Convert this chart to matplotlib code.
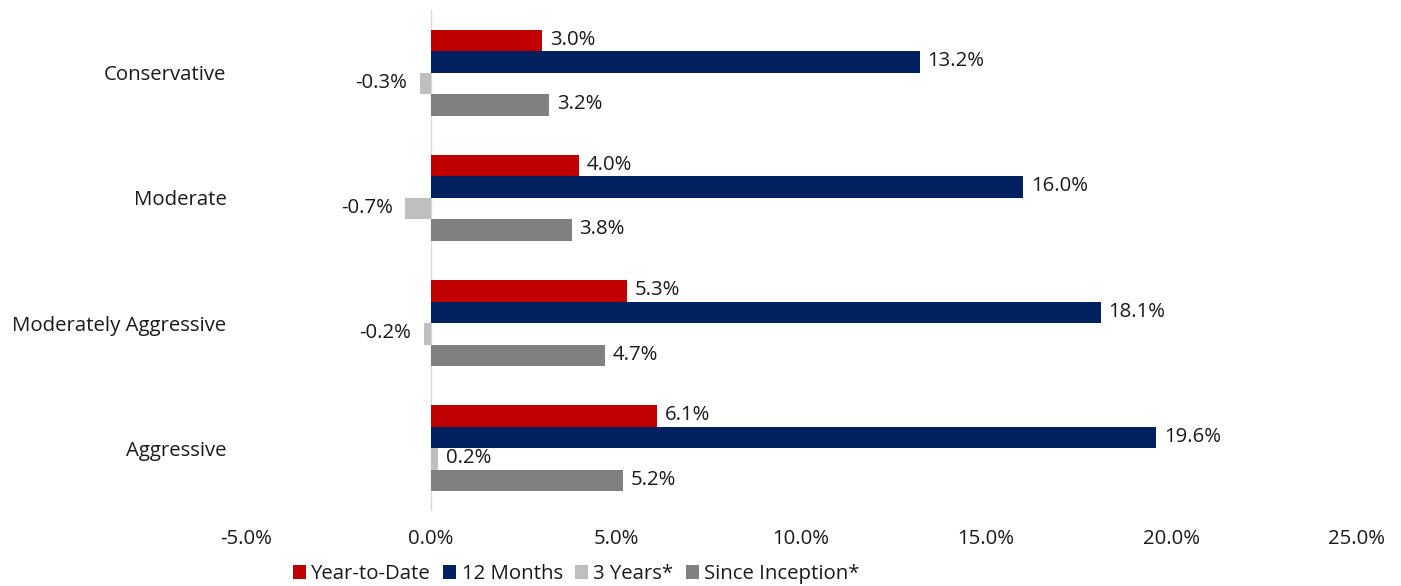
import numpy as np
import matplotlib.pyplot as plt
import matplotlib

matplotlib.rcParams['font.family'] = ['Open Sans', 'DejaVu Sans']

categories = ['Conservative', 'Moderate', 'Moderately Aggressive', 'Aggressive']
series = ['Year-to-Date', '12 Months', '3 Years*', 'Since Inception*']
ytd = [3.0, 4.0, 5.3, 6.1]
m12 = [13.2, 16.0, 18.1, 19.6]
y3 = [-0.3, -0.7, -0.2, 0.2]
since = [3.2, 3.8, 4.7, 5.2]
colors = ['#C00000', '#002060', '#BFBFBF', '#808080']

fig = plt.figure(figsize=(14.01, 5.86), dpi=100)
ax = fig.add_axes([0.1756, 0.128, 0.7924, 0.855])

y = np.arange(len(categories))
h = 0.172
fs = 14.7
for i, (name, vals) in enumerate(zip(series, [ytd, m12, y3, since])):
    pos = y + (i - 1.5) * h
    ax.barh(pos, vals, height=h, color=colors[i], label=name)
    for p, v in zip(pos, vals):
        if v >= 0:
            ax.annotate(f'{v:.1f}%', (v, p), xytext=(5.5, 0.5), textcoords='offset points',
                        ha='left', va='center', fontsize=fs, color='#1a1a1a')
        else:
            ax.annotate(f'{v:.1f}%', (v, p), xytext=(-9, 0.5), textcoords='offset points',
                        ha='right', va='center', fontsize=fs, color='#1a1a1a')

ax.set_xlim(-5, 25)
ax.set_ylim(3.5, -0.5)
ax.set_xticks([-5, 0, 5, 10, 15, 20, 25])
ax.set_xticklabels([f'{t:.1f}%' for t in [-5, 0, 5, 10, 15, 20, 25]])
ax.set_yticks(y)
ax.set_yticklabels(categories)
ax.tick_params(length=0, labelsize=fs, labelcolor='#1a1a1a')
ax.tick_params(axis='y', pad=14)
ax.tick_params(axis='x', pad=13)
for s in ax.spines.values():
    s.set_visible(False)
ax.axvline(0, color='#D9D9D9', lw=1, zorder=0)

ax.legend(loc='upper center', bbox_to_anchor=(0.2974, -0.07), ncol=4, frameon=False,
          fontsize=fs, handlelength=0.65, handleheight=0.65, handletextpad=0.25,
          columnspacing=0.6, labelcolor='#1a1a1a')

fig.savefig('out.png', dpi=100)
